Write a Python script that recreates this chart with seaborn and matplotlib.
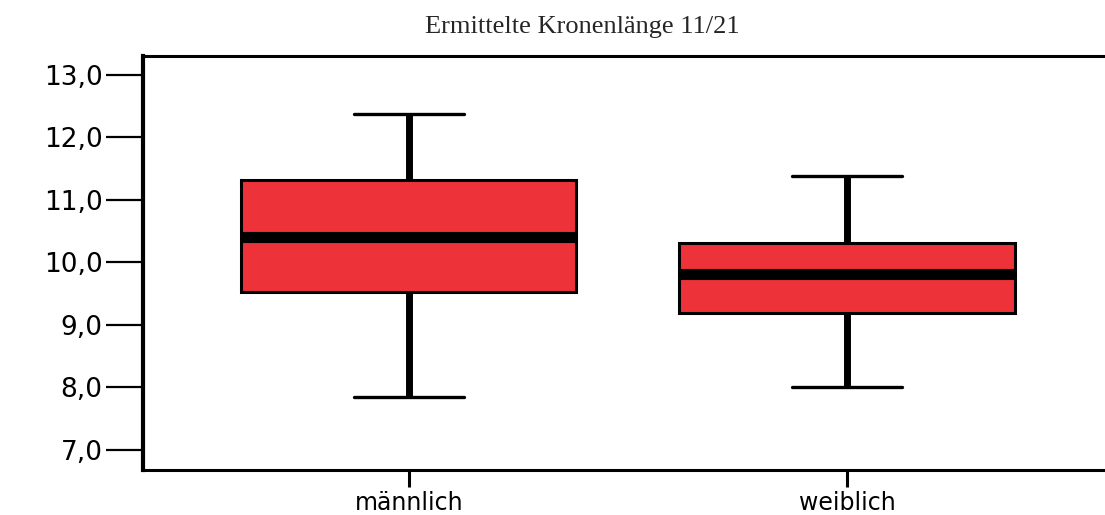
"""
Boxplot: ermittelte Kronenlaenge nach Geschlecht (11/21).
Saves the chart to out.png.
"""

import pandas as pd
import matplotlib.pyplot as plt
from matplotlib.ticker import FuncFormatter
import seaborn as sns

# five-number summaries (min, Q1, median, Q3, max)
groups = ["männlich", "weiblich"]
maennlich = [7.85, 9.53, 10.41, 11.32, 12.38]
weiblich = [8.0, 9.19, 9.82, 10.31, 11.38]
y_ticks = [7.0, 8.0, 9.0, 10.0, 11.0, 12.0, 13.0]

title = "Ermittelte Kronenlänge 11/21"
box_color = "#EE3239"


def build_frame():
    rows = [(groups[0], v) for v in maennlich] + [(groups[1], v) for v in weiblich]
    return pd.DataFrame(rows, columns=["Geschlecht", "Kronenlaenge"])


def main():
    df = build_frame()
    sns.set_style("white")
    plt.rcParams["font.family"] = ["DejaVu Sans"]

    fig = plt.figure(figsize=(11.05, 5.15), dpi=100)
    ax = fig.add_axes([0.1294, 0.0874, 0.8706, 0.8039])

    sns.boxplot(
        data=df, x="Geschlecht", y="Kronenlaenge", ax=ax,
        color=box_color, saturation=1, width=0.765,
        whis=(0, 100), showfliers=False, linecolor="black", linewidth=2.2,
        medianprops=dict(linewidth=8, color="black"),
        whiskerprops=dict(linewidth=5, color="black"),
        capprops=dict(linewidth=2.4, color="black"),
        capwidths=0.25,
    )

    ax.set_xlim(-0.607, 1.589)
    ax.set_ylim(6.68, 13.3)
    ax.set_yticks(y_ticks)
    ax.yaxis.set_major_formatter(FuncFormatter(lambda v, _: f"{v:.1f}".replace(".", ",")))
    ax.set_xlabel("")
    ax.set_ylabel("")

    ax.spines["right"].set_visible(False)
    ax.spines["left"].set_linewidth(3)
    ax.spines["bottom"].set_linewidth(2.2)
    ax.spines["top"].set_linewidth(2.2)
    for s in ("left", "bottom", "top"):
        ax.spines[s].set_color("black")

    ax.tick_params(axis="y", length=27, width=1.6, pad=2, labelsize=19,
                   left=True, colors="black")
    ax.tick_params(axis="x", length=12, width=2.2, pad=3, labelsize=17,
                   bottom=True, colors="black")

    fig.text(0.527, 0.947, title, ha="center", va="center",
             fontsize=19, family="Liberation Serif")

    plt.savefig("out.png", dpi=100)
    plt.close()


if __name__ == "__main__":
    main()
